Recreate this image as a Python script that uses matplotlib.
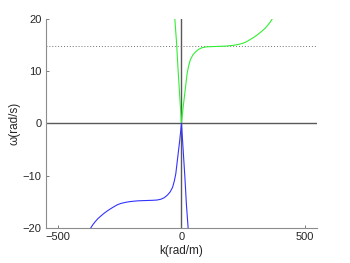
import matplotlib
matplotlib.use("Agg")
import matplotlib.pyplot as plt

# --- data ---
# upper branch (green)
k_up_right = [0, 7, 15, 23, 29, 36, 46, 57, 70, 84, 100, 118, 150, 178, 210, 228, 246, 260, 273, 287,
              300, 313, 327, 340, 350, 360, 368]
w_up_right = [0, 3.2, 6.4, 9.6, 11.0, 12.2, 13.1, 13.7, 14.2, 14.5, 14.65, 14.7, 14.75, 14.8, 14.95, 15.1,
              15.3, 15.55, 15.9, 16.3, 16.7, 17.15, 17.7, 18.25, 18.8, 19.4, 20]
k_up_left = [0, -7, -14, -20, -27]
w_up_left = [0, 5.2, 10.4, 15.5, 20]

# lower branch (blue)
k_lo_left = [0, -7, -15, -23, -29, -36, -46, -57, -70, -84, -100, -118, -150, -178, -210, -228, -246, -260,
             -273, -287, -300, -313, -327, -340, -350, -360, -368]
w_lo_left = [0, -3.2, -6.4, -9.6, -11.0, -12.2, -13.1, -13.7, -14.2, -14.5, -14.65, -14.7, -14.75, -14.8,
             -14.95, -15.1, -15.3, -15.55, -15.9, -16.3, -16.7, -17.15, -17.7, -18.25, -18.8, -19.4, -20]
k_lo_right = [0, 7, 14, 20, 27]
w_lo_right = [0, -5.2, -10.4, -15.5, -20]

w_asym = 14.8  # dotted asymptote

x_ticks = [-500, 0, 500]
y_ticks = [-20, -10, 0, 10, 20]

plt.rcParams["font.family"] = ["Liberation Sans", "DejaVu Sans"]

fig = plt.figure(figsize=(3.5, 2.63), dpi=100)
ax = fig.add_axes([0.131, 0.133, 0.775, 0.795])

ax.axhline(0, color="0.35", lw=1.0, zorder=1)
ax.axvline(0, color="0.35", lw=1.0, zorder=1)
ax.axhline(w_asym, color="0.45", lw=0.7, ls=(0, (1, 2)), zorder=1)

ax.plot(k_up_right, w_up_right, color="#33ee33", lw=0.8, zorder=2)
ax.plot(k_up_left, w_up_left, color="#33ee33", lw=0.8, zorder=2)
ax.plot(k_lo_left, w_lo_left, color="#3333ff", lw=0.8, zorder=3)
ax.plot(k_lo_right, w_lo_right, color="#3333ff", lw=0.8, zorder=3)

ax.set_xlim(-550, 550)
ax.set_ylim(-20, 20)
ax.set_xticks(x_ticks)
ax.set_yticks(y_ticks)

for s in ["top", "right"]:
    ax.spines[s].set_visible(False)
for s in ["left", "bottom"]:
    ax.spines[s].set_color("0.55")
    ax.spines[s].set_linewidth(0.8)
ax.tick_params(direction="in", length=2.5, width=0.6, color="0.4",
               labelsize=8, labelcolor="0.15", pad=3)

ax.set_xlabel("k(rad/m)", fontsize=8.5, color="0.15", labelpad=2)
ax.set_ylabel("ω(rad/s)", fontsize=8.5, color="0.15", labelpad=2)

fig.savefig("out.png", dpi=100)
